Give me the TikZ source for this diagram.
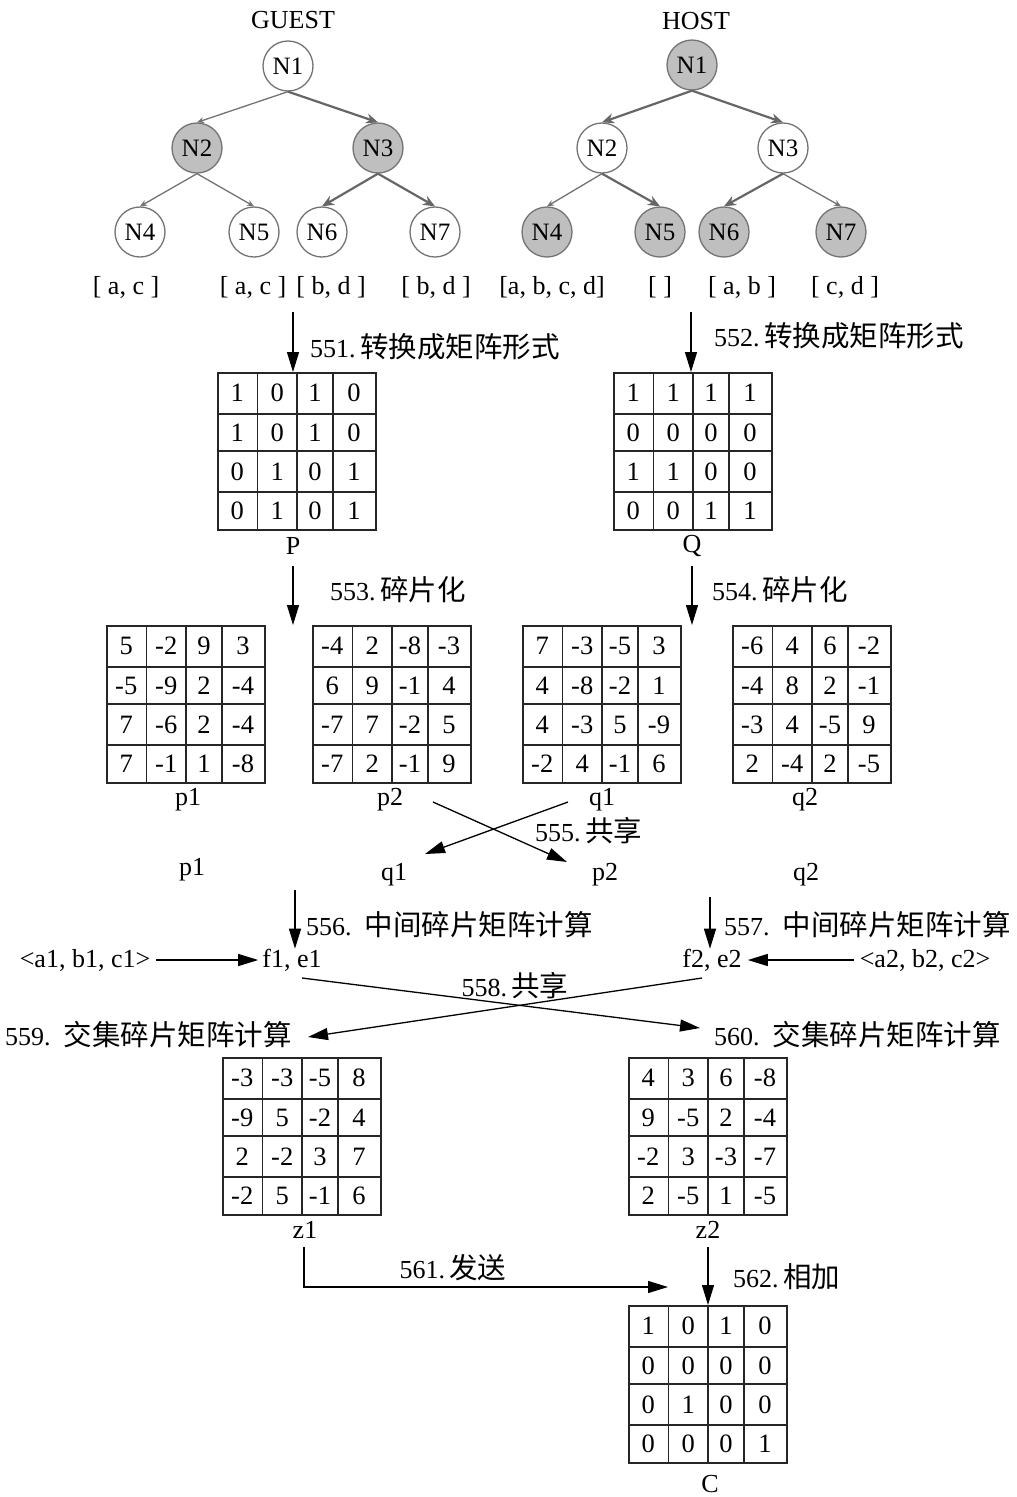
\documentclass[tikz,border=0pt]{standalone}
\usepackage{fontspec}
\setmainfont{Liberation Serif}
\newfontfamily\cjk{Noto Sans CJK SC}
\usetikzlibrary{arrows.meta}
\newcommand\zh[1]{{\cjk\fontsize{28.5}{30}\selectfont #1}}
\tikzset{
 txt/.style={font=\fontsize{26}{30}\selectfont, inner sep=0pt},
 cell/.style={font=\fontsize{26.5}{30}\selectfont, inner sep=0pt},
 matbox/.style={draw=black!85, line width=1.6pt, minimum width=158pt, minimum height=157pt, inner sep=0pt},
 matline/.style={draw=black!85, line width=1.6pt},
 tn/.style={circle, draw=black!55, line width=1.3pt, minimum size=50pt, inner sep=0pt, fill=white, font=\fontsize{25}{28}\selectfont},
 tns/.style={tn, fill=gray!50},
 tedge/.style={draw=black!55, line width=1.3pt, -{Stealth[length=7pt,width=6pt]}},
 tedgeb/.style={draw=black!60, line width=2.2pt, -{Stealth[length=12pt,width=10pt]}},
 flow/.style={draw=black, line width=1.3pt, -{Triangle[length=20pt,width=12pt]}},
}
\newcommand\drawmat[4]{%
\begin{scope}[shift={(#2,#3)}]
\node[matbox, anchor=north west] (#1) at (0,0) {};
\foreach \cx in {40.5,80,116} \draw[matline] (\cx,0) -- (\cx,157);
\foreach \ry in {42,79,120} \draw[matline] (0,\ry) -- (158,\ry);
\foreach \v [count=\i from 0] in {#4} {
 \pgfmathsetmacro\xx{{20.25,60.25,98,137}[mod(\i,4)]}
 \pgfmathsetmacro\yy{{21,60.5,99.5,138.5}[int(\i/4)]}
 \node[cell] (#1-\i) at (\xx,\yy) {\v};
}
\end{scope}}
\begin{document}
\begin{tikzpicture}[x=1pt,y=-1pt]
\useasboundingbox[fill=white] (0,0) rectangle (1017,1497);

% titles
\node[txt] (guest) at (293,20) {GUEST};
\node[txt] (host) at (696,21) {HOST};

% guest tree
\node[tn]  (gN1) at (288,66) {N1};
\node[tns] (gN2) at (197,148) {N2};
\node[tns] (gN3) at (378,148) {N3};
\node[tn]  (gN4) at (140,232) {N4};
\node[tn]  (gN5) at (254,232) {N5};
\node[tn]  (gN6) at (322,232) {N6};
\node[tn]  (gN7) at (435,232) {N7};
\draw[tedge]  (gN1.south) -- (gN2.north);
\draw[tedgeb] (gN1.south) -- (gN3.north);
\draw[tedge]  (gN2.south) -- (gN4.north);
\draw[tedge]  (gN2.south) -- (gN5.north);
\draw[tedgeb] (gN3.south) -- (gN6.north);
\draw[tedgeb] (gN3.south) -- (gN7.north);

% host tree
\node[tns] (hN1) at (692,65) {N1};
\node[tn]  (hN2) at (602,148) {N2};
\node[tn]  (hN3) at (783,148) {N3};
\node[tns] (hN4) at (547,232) {N4};
\node[tns] (hN5) at (660,232) {N5};
\node[tns] (hN6) at (724,232) {N6};
\node[tns] (hN7) at (841,232) {N7};
\draw[tedgeb] (hN1.south) -- (hN2.north);
\draw[tedgeb] (hN1.south) -- (hN3.north);
\draw[tedge]  (hN2.south) -- (hN4.north);
\draw[tedgeb] (hN2.south) -- (hN5.north);
\draw[tedgeb] (hN3.south) -- (hN6.north);
\draw[tedge]  (hN3.south) -- (hN7.north);

% leaf labels
\node[txt] (gL4) at (126,287) {[ a, c ]};
\node[txt] (gL5) at (253,287) {[ a, c ]};
\node[txt] (gL6) at (331,287) {[ b, d ]};
\node[txt] (gL7) at (436,287) {[ b, d ]};
\node[txt] (hL4) at (552,287) {[a, b, c, d]};
\node[txt] (hL5) at (660,287) {[ ]};
\node[txt] (hL6) at (742,287) {[ a, b ]};
\node[txt] (hL7) at (845,287) {[ c, d ]};

% 551 / 552
\coordinate (s551) at (293,312);
\coordinate (s552) at (691,312);
\drawmat{Pm}{217}{372}{1,0,1,0,1,0,1,0,0,1,0,1,0,1,0,1}
\drawmat{Qm}{613}{372}{1,1,1,1,0,0,0,0,1,1,0,0,0,0,1,1}
\draw[flow] (s551) -- (s551 |- Pm.north);
\draw[flow] (s552) -- (s552 |- Qm.north);
\node[txt, anchor=west] (l551) at (310,347) {551.\,\zh{转换成矩阵形式}};
\node[txt, anchor=west] (l552) at (714,336) {552.\,\zh{转换成矩阵形式}};
\node[txt] (Plab) at (293,546) {P};
\node[txt] (Qlab) at (692,546) {Q};

% 553 / 554
\drawmat{p1m}{106}{625}{5,-2,9,3,-5,-9,2,-4,7,-6,2,-4,7,-1,1,-8}
\drawmat{p2m}{312}{625}{-4,2,-8,-3,6,9,-1,4,-7,7,-2,5,-7,2,-1,9}
\drawmat{q1m}{522}{625}{7,-3,-5,3,4,-8,-2,1,4,-3,5,-9,-2,4,-1,6}
\drawmat{q2m}{732}{625}{-6,4,6,-2,-4,8,2,-1,-3,4,-5,9,2,-4,2,-5}
\coordinate (s553) at (293,566);
\coordinate (s554) at (692,566);
\draw[flow] (s553) -- (s553 |- p1m.north);
\draw[flow] (s554) -- (s554 |- q1m.north);
\node[txt, anchor=west] (l553) at (330,590) {553.\,\zh{碎片化}};
\node[txt, anchor=west] (l554) at (712,590) {554.\,\zh{碎片化}};
\node[txt] (p1lab) at (188,800) {p1};
\node[txt] (p2lab) at (390,800) {p2};
\node[txt] (q1lab) at (602,800) {q1};
\node[txt] (q2lab) at (805,800) {q2};

% 555 share
\node[txt] (p1b) at (192,870) {p1};
\node[txt] (q1b) at (394,875) {q1};
\node[txt] (p2b) at (605,875) {p2};
\node[txt] (q2b) at (806,875) {q2};
\coordinate (c555a) at (433,802);
\coordinate (c555b) at (567,862);
\coordinate (c555c) at (568,802);
\coordinate (c555d) at (425,854);
\draw[flow] (c555a) -- (c555b);
\draw[flow] (c555c) -- (c555d);
\node[txt, anchor=west] (l555) at (535,831) {555.\,\zh{共享}};

% 556 / 557
\node[txt] (f1) at (292,960) {f1, e1};
\node[txt] (f2) at (712,960) {f2, e2};
\node[txt] (abc1) at (85,960) {<a1, b1, c1>};
\node[txt] (abc2) at (925,960) {<a2, b2, c2>};
\coordinate (s556) at (295,890);
\coordinate (s557) at (710,897);
\draw[flow] (s556) -- (s556 |- f1.north);
\draw[flow] (s557) -- (s557 |- f2.north);
\draw[flow] ([xshift=6pt]abc1.east) -- ([xshift=-4pt]f1.west);
\draw[flow] ([xshift=-6pt]abc2.west) -- ([xshift=6pt]f2.east);
\node[txt, anchor=west] (l556) at (306,925) {556.\ \ \zh{中间碎片矩阵计算}};
\node[txt, anchor=west] (l557) at (724,925) {557.\ \ \zh{中间碎片矩阵计算}};

% 558 share
\node[txt, anchor=west] (l559) at (5,1035) {559.\ \ \zh{交集碎片矩阵计算}};
\node[txt, anchor=west] (l560) at (714,1035) {560.\ \ \zh{交集碎片矩阵计算}};
\coordinate (c558a) at (302,978);
\coordinate (c558b) at (700,1028);
\coordinate (c558c) at (702,978);
\coordinate (c558d) at (308,1037);
\draw[flow] (c558a) -- (c558b);
\draw[flow] (c558c) -- (c558d);
\node[txt] (l558) at (515,986) {558.\,\zh{共享}};

% z1, z2
\drawmat{z1m}{222}{1057}{-3,-3,-5,8,-9,5,-2,4,2,-2,3,7,-2,5,-1,6}
\drawmat{z2m}{628}{1057}{4,3,6,-8,9,-5,2,-4,-2,3,-3,-7,2,-5,1,-5}
\node[txt] (z1lab) at (305,1230) {z1};
\node[txt] (z2lab) at (708,1230) {z2};

% 561 / 562
\drawmat{Cm}{628}{1305}{1,0,1,0,0,0,0,0,0,1,0,0,0,0,0,1}
\node[txt] (Clab) at (710,1484) {C};
\coordinate (s561) at (304,1247);
\coordinate (e561) at (668,1287);
\draw[flow] (s561) |- (e561);
\node[txt] (l561) at (453,1268) {561.\,\zh{发送}};
\coordinate (s562) at (708,1247);
\draw[flow] (s562) -- (s562 |- Cm.north);
\node[txt, anchor=west] (l562) at (733,1277) {562.\,\zh{相加}};
\end{tikzpicture}
\end{document}
